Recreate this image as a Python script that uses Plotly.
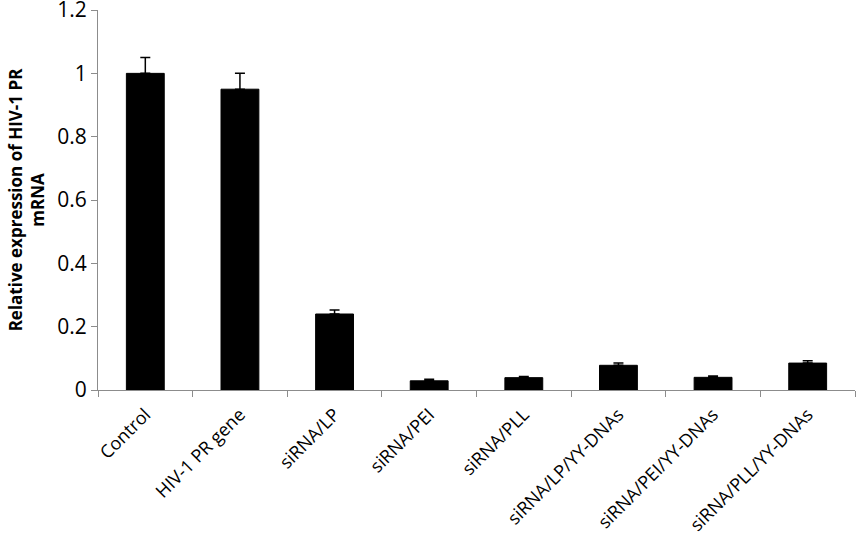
import plotly.graph_objects as go

groups = [
    "Control",
    "HIV-1 PR gene",
    "siRNA/LP",
    "siRNA/PEI",
    "siRNA/PLL",
    "siRNA/LP/YY-DNAs",
    "siRNA/PEI/YY-DNAs",
    "siRNA/PLL/YY-DNAs",
]
expression = [1.0, 0.95, 0.24, 0.029, 0.039, 0.078, 0.040, 0.085]
error_up = [0.05, 0.05, 0.013, 0.005, 0.004, 0.007, 0.004, 0.007]
y_ticks = [0, 0.2, 0.4, 0.6, 0.8, 1, 1.2]

axis_grey = "#8c8c8c"

fig = go.Figure(
    go.Bar(
        x=groups,
        y=expression,
        marker=dict(color="black", line=dict(color="black", width=1)),
        error_y=dict(
            type="data",
            array=error_up,
            symmetric=False,
            arrayminus=[0] * len(error_up),
            color="black",
            thickness=1.5,
            width=5,
        ),
    )
)

fig.update_layout(
    width=866,
    height=540,
    margin=dict(l=98, r=11, t=10, b=150, autoexpand=False),
    plot_bgcolor="white",
    paper_bgcolor="white",
    bargap=0.6,
    showlegend=False,
    font=dict(family="Open Sans, Liberation Sans, sans-serif", color="black"),
)
fig.update_xaxes(
    automargin=False,
    tickangle=-45,
    tickson="boundaries",
    ticks="outside",
    ticklen=6,
    tickcolor=axis_grey,
    showline=True,
    linecolor=axis_grey,
    linewidth=1,
    tickfont=dict(size=18),
    ticklabelstandoff=6,
    ticklabeloverflow="allow",
)
fig.update_yaxes(
    automargin=False,
    range=[0, 1.2001],
    tickvals=y_ticks,
    ticktext=[f"{v:g}" for v in y_ticks],
    ticks="outside",
    ticklen=6,
    tickcolor=axis_grey,
    showline=True,
    linecolor=axis_grey,
    linewidth=1,
    showgrid=False,
    zeroline=False,
    tickfont=dict(size=21),
    ticklabeloverflow="allow",
    title=dict(
        text="<b>Relative expression of HIV-1 PR<br>mRNA</b>",
        font=dict(size=17),
        standoff=8,
    ),
)

# drop the default 8px body margin so the figure sits at the page corner
fig.write_html(
    "out.html",
    config={"displayModeBar": False},
    post_script="document.body.style.margin = '0px';",
)
